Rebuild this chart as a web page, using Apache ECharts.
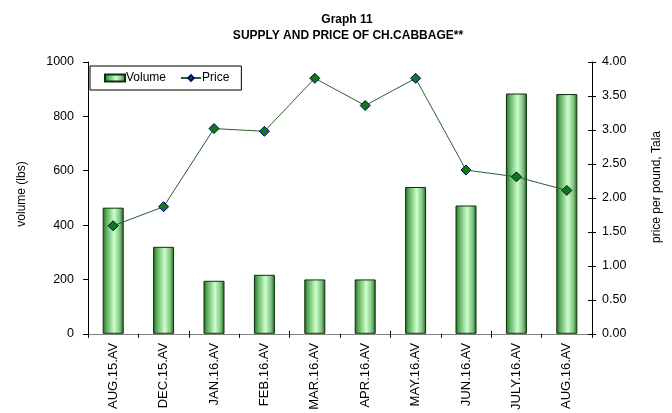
<!DOCTYPE html>
<html>
<head>
<meta charset="utf-8">
<script src="https://cdn.jsdelivr.net/npm/echarts@6/dist/echarts.min.js"></script>
<style>
html,body{margin:0;padding:0;background:#fff;}
#chart{width:672px;height:413px;}
</style>
</head>
<body>
<div id="chart"></div>
<script>
var categories = ['AUG.15.AV','DEC.15.AV','JAN.16.AV','FEB.16.AV','MAR.16.AV','APR.16.AV','MAY.16.AV','JUN.16.AV','JULY.16.AV','AUG.16.AV'];
var volume = [464, 320, 195, 217, 200, 200, 540, 472, 884, 882];
var price = [1.59, 1.87, 3.02, 2.98, 3.76, 3.36, 3.76, 2.41, 2.31, 2.11];
var volumeTicks = [0, 200, 400, 600, 800, 1000];
var priceTicks = [0.00, 0.50, 1.00, 1.50, 2.00, 2.50, 3.00, 3.50, 4.00];
var titleLines = ['Graph 11', 'SUPPLY AND PRICE OF CH.CABBAGE**'];
var axisNames = ['volume (lbs)', 'price per pound, Tala'];

var FONT = 'Liberation Sans, Arial, sans-serif';
var chart = echarts.init(document.getElementById('chart'), null, {renderer:'canvas'});

var barGradient = new echarts.graphic.LinearGradient(0, 0, 1, 0, [
  {offset:0, color:'#1e6a1e'},
  {offset:0.18, color:'#5fae5f'},
  {offset:0.55, color:'#ccffcc'},
  {offset:0.82, color:'#7fc27f'},
  {offset:1, color:'#1a5e1a'}
]);

var priceMin = priceTicks[0], priceMax = priceTicks[priceTicks.length-1], priceStep = priceTicks[1]-priceTicks[0];

var option = {
  backgroundColor:'#ffffff',
  animation:false,
  textStyle:{fontFamily:FONT},
  graphic:[
    {type:'text', x:347, y:14, style:{text:titleLines[0], font:'bold 12px '+FONT, fill:'#000', align:'center', verticalAlign:'top'}},
    {type:'text', x:348, y:29.5, style:{text:titleLines[1], font:'bold 12px '+FONT, fill:'#000', align:'center', verticalAlign:'top'}},
    {type:'text', x:22, y:194, rotation:Math.PI/2, style:{text:axisNames[0], font:'12px '+FONT, fill:'#000', align:'center', verticalAlign:'middle'}},
    {type:'text', x:657, y:187, rotation:Math.PI/2, style:{text:axisNames[1], font:'12px '+FONT, fill:'#000', align:'center', verticalAlign:'middle'}}
  ],
  legend:{
    left:90, top:66,
    padding:[6,12,6,14],
    itemGap:14,
    itemWidth:20, itemHeight:7,
    borderColor:'#000', borderWidth:1, borderRadius:0,
    textStyle:{fontSize:12, color:'#000', fontFamily:FONT, padding:[0,0,0,-4]},
    data:[{name:'Volume', icon:'rect'}, {name:'Price'}]
  },
  grid:{left:88, right:80, top:62, bottom:78, containLabel:false},
  xAxis:[{
    type:'category', data:categories, position:'bottom',
    axisLine:{lineStyle:{color:'#000', width:1}},
    axisTick:{show:true, length:4, lineStyle:{color:'#000'}},
    axisLabel:{rotate:90, margin:9, fontSize:13, color:'#000', fontFamily:FONT, interval:0},
    splitLine:{show:false}
  },{
    type:'category', data:categories, position:'top',
    axisLine:{lineStyle:{color:'#808080', width:1}},
    axisTick:{show:false}, axisLabel:{show:false}
  },{
    type:'category', data:categories, position:'bottom', offset:0,
    axisLine:{show:false},
    axisTick:{show:true, inside:true, length:3, lineStyle:{color:'#000'}},
    axisLabel:{show:false}
  }],
  yAxis:[{
    type:'value', min:volumeTicks[0], max:volumeTicks[volumeTicks.length-1], interval:volumeTicks[1]-volumeTicks[0],
    axisLine:{show:true, lineStyle:{color:'#000'}},
    axisTick:{show:true, length:5, lineStyle:{color:'#000'}},
    axisLabel:{margin:14, fontSize:12.5, color:'#000', fontFamily:FONT, formatter:function(v){return String(v);}},
    splitLine:{show:false}
  },{
    type:'value', min:priceMin, max:priceMax, interval:priceStep, position:'right',
    axisLine:{show:true, lineStyle:{color:'#000'}},
    axisTick:{show:true, length:4, lineStyle:{color:'#000'}},
    axisLabel:{margin:10, fontSize:12.5, color:'#000', fontFamily:FONT, formatter:function(v){return v.toFixed(2);}},
    splitLine:{show:false}
  },{
    type:'value', min:priceMin, max:priceMax, interval:priceStep, position:'right', offset:0,
    axisLine:{show:false},
    axisTick:{show:true, inside:true, length:4, lineStyle:{color:'#000'}},
    axisLabel:{show:false},
    splitLine:{show:false}
  }],
  series:[{
    name:'Volume', type:'bar', data:volume, xAxisIndex:0, yAxisIndex:0,
    barWidth:21,
    itemStyle:{color:barGradient, borderColor:'#0d2e0d', borderWidth:1}
  },{
    name:'Price', type:'line', data:price, xAxisIndex:0, yAxisIndex:1,
    symbol:'diamond', symbolSize:10,
    lineStyle:{color:'#2b5e2b', width:1},
    itemStyle:{color:'#0f7a0f', borderColor:'#000080', borderWidth:1}
  }]
};
chart.setOption(option);
</script>
</body>
</html>
